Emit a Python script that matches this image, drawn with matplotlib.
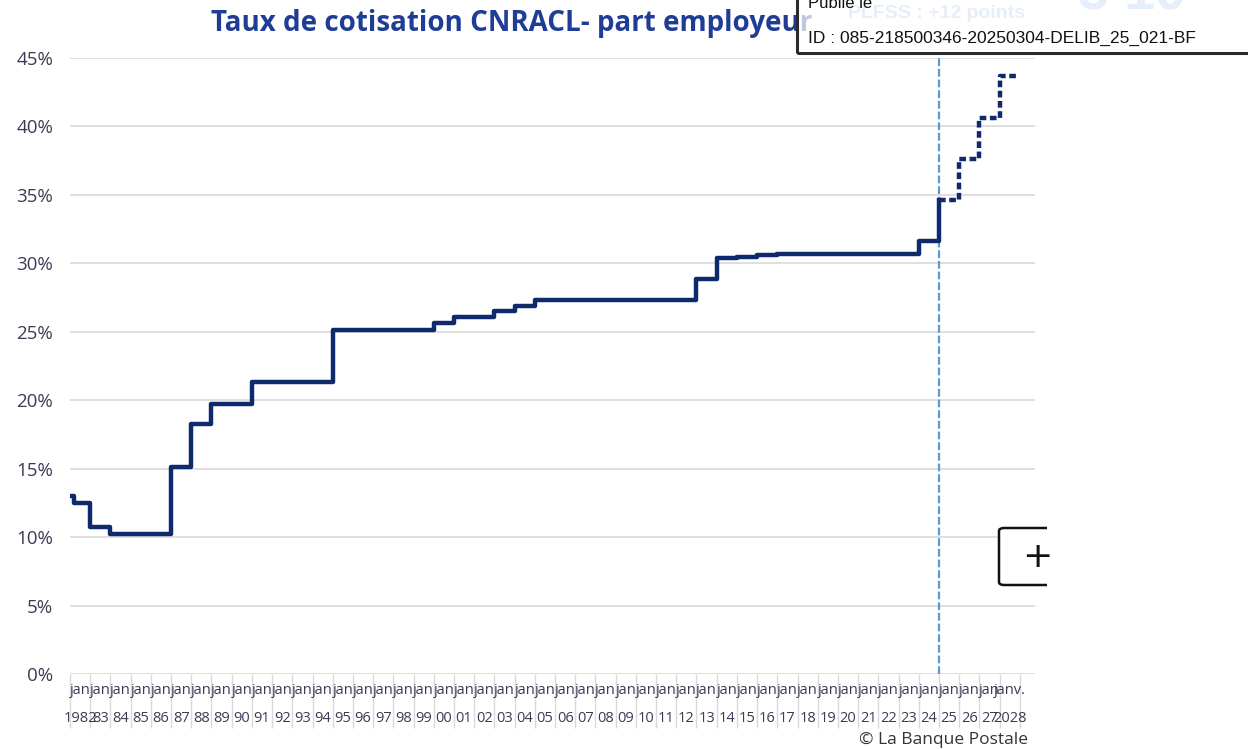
"""
plot.py
-------
Taux de cotisation CNRACL - part employeur (1982-2028), step chart.
Output: out.png
"""

import matplotlib
matplotlib.use("Agg")
import matplotlib.pyplot as plt
from matplotlib.patches import Rectangle, FancyBboxPatch
from matplotlib.transforms import blended_transform_factory

W, H = 1248, 749
NAVY      = "#0E2A6C"
LIGHTBLUE = "#5B9BD5"
GRID      = "#D9D9D9"
LABEL_COL = "#3E3A55"
TITLE_COL = "#1F3D97"

# --- data ---------------------------------------------------------------
# observed rates (start date of each rate, in years)
hist_dates = [1982.0, 1982.2, 1983, 1984, 1987, 1988, 1989, 1991, 1995,
              2000, 2001, 2003, 2004, 2005, 2013, 2014, 2015, 2016, 2017,
              2024, 2025]
hist_rates = [13.0, 12.5, 10.75, 10.2, 15.15, 18.25, 19.7, 21.35, 25.1,
              25.65, 26.1, 26.5, 26.85, 27.3, 28.85, 30.4, 30.45, 30.6, 30.65,
              31.65, 34.65]

# planned rates (PLFSS 2025 : +12 points)
plan_dates = [2025, 2026, 2027, 2028, 2028.9]
plan_rates = [34.65, 37.65, 40.65, 43.65, 43.65]

years      = list(range(1982, 2029))
row1_lbls  = ["jan"] * 46 + ["janv."]
row2_lbls  = ["1982"] + [f"{y % 100:02d}" for y in range(1983, 2028)] + ["2028"]
yticks     = [0, 5, 10, 15, 20, 25, 30, 35, 40, 45]
reform_year = 2025


def fx(px):
    return px / W


def fy(py):
    return 1 - py / H


def main():
    fig = plt.figure(figsize=(W / 100, H / 100), dpi=100)
    fig.patch.set_facecolor("white")

    ax = fig.add_axes([fx(70), fy(674), fx(1035) - fx(70), fy(58) - fy(674)])
    ax.set_xlim(1982, 1982 + 47.75)
    ax.set_ylim(0, 45)

    # horizontal grid
    ax.set_yticks(yticks)
    ax.set_yticklabels([f"{v}%" for v in yticks], fontsize=13.5,
                       color=LABEL_COL, family="Open Sans")
    ax.yaxis.grid(True, color=GRID, linewidth=1.2)
    ax.tick_params(axis="y", length=0, pad=12)
    for s in ax.spines.values():
        s.set_visible(False)
    ax.set_axisbelow(True)

    # x category boundaries (long ticks) and two-row labels
    ax.set_xticks(list(range(1982, 2030)))
    ax.set_xticklabels([])
    ax.tick_params(axis="x", length=39, width=1, color=GRID, direction="out")
    tr = blended_transform_factory(ax.transData, ax.transAxes)
    for y, l1, l2 in zip(years, row1_lbls, row2_lbls):
        ax.text(y + 0.5, -17 / 616, l1, transform=tr, ha="center",
                va="center", fontsize=10.5, color=LABEL_COL, family="Open Sans")
        ax.text(y + 0.5, -45 / 616, l2, transform=tr, ha="center",
                va="center", fontsize=10.5, color=LABEL_COL, family="Open Sans")

    # series
    ax.plot(hist_dates, hist_rates, drawstyle="steps-post", color=NAVY,
            linewidth=3.2, solid_joinstyle="round", zorder=3)
    ax.plot(plan_dates, plan_rates, drawstyle="steps-post", color=NAVY,
            linewidth=3.2, linestyle=(0, (1.5, 0.8)), zorder=3)
    ax.axvline(reform_year, color=LIGHTBLUE, linewidth=1.6,
               linestyle=(0, (3.5, 1.3)), zorder=2)

    # title and faded overlay text
    fig.text(fx(512), fy(23), "Taux de cotisation CNRACL- part employeur",
             ha="center", va="center", fontsize=20, fontweight="bold",
             color=TITLE_COL, family="Open Sans")
    fig.text(fx(936), fy(14), "PLFSS : +12 points", ha="center",
             va="center", fontsize=14, fontweight="bold", color="#A7C6EA",
             family="Liberation Sans")
    fig.text(fx(1132), fy(9), "3 10", ha="center", va="baseline",
             fontsize=40, fontweight="bold", color="#A7C6EA",
             family="Liberation Sans")

    # stamp box (translucent white)
    fig.add_artist(Rectangle((fx(797), fy(53)), fx(1260) - fx(797),
                             fy(-10) - fy(53), transform=fig.transFigure,
                             facecolor="white", alpha=0.72, edgecolor="none",
                             zorder=5))
    fig.add_artist(Rectangle((fx(797), fy(53)), fx(1260) - fx(797),
                             fy(-10) - fy(53), transform=fig.transFigure,
                             facecolor="none", edgecolor="#2B2B2B",
                             linewidth=2.2, zorder=6))
    fig.text(fx(808), fy(4), "Publié le", ha="left", va="center",
             fontsize=12, color="#111111", family="Liberation Sans", zorder=7)
    fig.text(fx(808), fy(38), "ID : 085-218500346-20250304-DELIB_25_021-BF",
             ha="left", va="center", fontsize=12.5, color="#111111",
             family="Liberation Sans", zorder=7)

    # "+" button, clipped at the screenshot edge
    fig.add_artist(FancyBboxPatch((fx(999), fy(585)), fx(1080) - fx(999),
                                  fy(528) - fy(585),
                                  boxstyle="round,pad=0,rounding_size=0.004",
                                  transform=fig.transFigure, facecolor="white",
                                  edgecolor="#111111", linewidth=1.8,
                                  zorder=5))
    fig.add_artist(Rectangle((fx(1047), fy(600)), fx(1248) - fx(1047),
                             fy(500) - fy(600), transform=fig.transFigure,
                             facecolor="white", edgecolor="none", zorder=6))
    fig.text(fx(1037), fy(557), "+", ha="center", va="center", fontsize=26,
             color="#111111", family="DejaVu Sans", zorder=7)

    fig.text(fx(1028), fy(740), "© La Banque Postale", ha="right",
             va="center", fontsize=12.5, color="#333333", family="Open Sans")

    fig.savefig("out.png", dpi=100)
    plt.close(fig)


if __name__ == "__main__":
    main()
